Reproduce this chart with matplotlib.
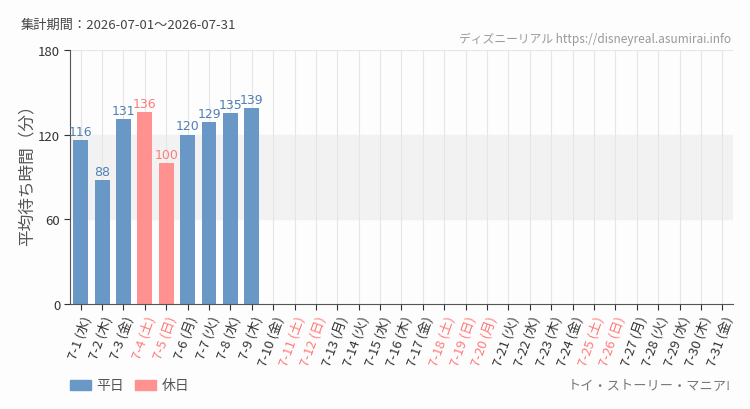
import matplotlib
matplotlib.use('Agg')
import matplotlib.pyplot as plt
from matplotlib.patches import Rectangle

plt.rcParams['font.family'] = ['Noto Sans CJK JP', 'DejaVu Sans']

# data
days = list(range(1, 32))
weekdays = ['水', '木', '金', '土', '日', '月', '火'] * 5
weekdays = weekdays[:31]
holidays = [4, 5, 11, 12, 18, 19, 20, 25, 26]
waits = [116, 88, 131, 136, 100, 120, 129, 135, 139]
labels = ['7-%d (%s)' % (d, w) for d, w in zip(days, weekdays)]

blue = '#6a98c6'
pink = '#ff9191'
blueText = '#4f7fb5'
pinkText = '#ff7a7a'

fig = plt.figure(figsize=(7.5, 4.1), dpi=100, facecolor='#fcfdfc')
ax = fig.add_axes([0.0933, 0.256, 0.884, 0.62])
ax.set_facecolor('#fcfdfc')

x = list(range(len(days)))
ax.axhspan(60, 120, color='#f2f2f2', zorder=0)
for xi in x:
    ax.axvline(xi, color='#e6e6e6', lw=0.8, zorder=0)
ax.axhline(180, color='#e6e6e6', lw=0.8, zorder=0)

for i, v in enumerate(waits):
    isHoliday = days[i] in holidays
    ax.bar(i, v, width=0.7, color=pink if isHoliday else blue, zorder=2)
    ax.text(i, v + 1.5, str(v), ha='center', va='bottom', fontsize=9,
            family='DejaVu Sans', color=pinkText if isHoliday else blueText)

ax.set_xlim(-0.5, len(days) - 0.5)
ax.set_ylim(0, 180)
ax.set_yticks([0, 60, 120, 180])
ax.set_yticklabels(['0', '60', '120', '180'], fontsize=9.5, color='#333333')
ax.set_xticks(x)
ax.set_xticklabels(labels, rotation=70, ha='right', rotation_mode='anchor', fontsize=9.5)
for d, t in zip(days, ax.get_xticklabels()):
    t.set_color(pinkText if d in holidays else '#333333')
ax.tick_params(axis='both', length=4, color='#333333', pad=3)
ax.set_ylabel('平均待ち時間（分）', fontsize=12, color='#555555')
ax.yaxis.set_label_coords(-0.052, 0.525)

for s in ['top', 'right']:
    ax.spines[s].set_visible(False)
ax.spines['left'].set_color('#555555')
ax.spines['bottom'].set_color('#555555')

fig.text(0.027, 0.93, '集計期間：2026-07-01～2026-07-31', fontsize=9.5, color='#444444')
fig.text(0.975, 0.895, 'ディズニーリアル https://disneyreal.asumirai.info', fontsize=8.5,
         color='#999999', ha='right')
fig.text(0.975, 0.052, 'トイ・ストーリー・マニア!', fontsize=9.5, color='#777777', ha='right')

# legend
fig.patches.append(Rectangle((0.093, 0.047), 0.028, 0.024, color=blue, transform=fig.transFigure))
fig.text(0.128, 0.059, '平日', fontsize=10, color='#555555', va='center')
fig.patches.append(Rectangle((0.18, 0.047), 0.028, 0.024, color=pink, transform=fig.transFigure))
fig.text(0.215, 0.059, '休日', fontsize=10, color='#555555', va='center')

fig.savefig('out.png', dpi=100, facecolor=fig.get_facecolor())
